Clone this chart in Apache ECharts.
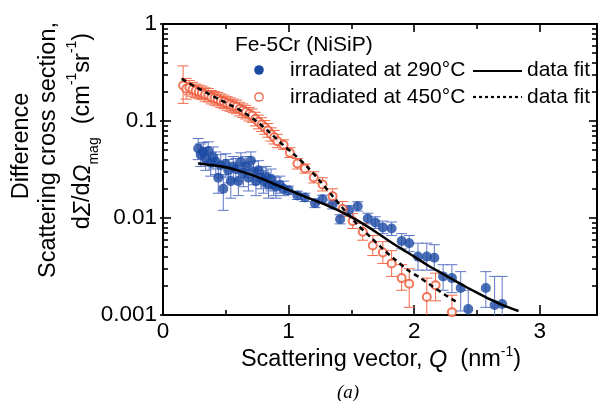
<!DOCTYPE html>
<html><head><meta charset="utf-8">
<script src="https://cdn.jsdelivr.net/npm/echarts@6/dist/echarts.min.js"></script>
<style>html,body{margin:0;padding:0;background:#fff}#c{width:599px;height:401px}</style>
</head><body><div id="c"></div>
<script>
// ---------- data ----------
const xTickValues = [0, 1, 2, 3];
const xMinorTickValues = [0.5, 1.5, 2.5];
const yTickValues = [0.001, 0.01, 0.1, 1];
const xMax = 3.455;

// irradiated at 290 °C (filled blue circles)
const blueQ  = [0.28,0.30,0.32,0.34,0.36,0.38,0.40,0.42,0.44,0.46,0.48,0.50,0.52,0.54,0.56,0.58,0.60,0.62,0.64,0.66,0.68,0.70,0.72,0.74,0.76,0.78,0.80,0.82,0.84,0.86,0.88,0.90,0.93,0.96,
                1.00,1.07,1.13,1.21,1.27,1.35,1.41,1.48,1.55,1.63,1.69,1.75,1.82,1.90,1.96,2.03,2.10,2.16,2.23,2.30,2.37,2.43,2.57,2.64,2.70];
const blueV  = [0.052,0.045,0.048,0.041,0.049,0.037,0.042,0.038,0.026,0.035,0.020,0.036,0.031,0.024,0.034,0.032,0.024,0.038,0.029,0.034,0.026,0.039,0.030,0.024,0.031,0.026,0.024,0.027,0.022,0.025,0.022,0.021,0.022,0.020,
                0.0193,0.0171,0.0163,0.0142,0.0156,0.0138,0.0097,0.0120,0.0132,0.0099,0.0090,0.0080,0.0078,0.0058,0.0055,0.0040,0.0040,0.0039,0.0025,0.0024,0.0019,0.00115,0.0019,0.00127,0.0013];
const blueLo = [0.040,0.034,0.037,0.031,0.038,0.027,0.032,0.028,0.018,0.026,0.012,0.027,0.023,0.016,0.025,0.024,0.017,0.029,0.021,0.026,0.019,0.031,0.022,0.017,0.024,0.020,0.018,0.021,0.016,0.019,0.017,0.016,0.018,0.017,
                0.0175,0.0155,0.0148,0.0128,0.0141,0.0124,0.0087,0.0107,0.0118,0.0087,0.0078,0.0069,0.0066,0.0048,0.0045,0.0029,0.0029,0.0029,0.0018,0.0017,0.0011,0.0008,0.0012,0.0007,0.0007];
const blueHi = [0.066,0.058,0.060,0.053,0.061,0.047,0.054,0.048,0.034,0.045,0.028,0.046,0.040,0.032,0.043,0.041,0.032,0.047,0.037,0.043,0.034,0.048,0.038,0.031,0.039,0.033,0.031,0.034,0.028,0.032,0.027,0.026,0.027,0.024,
                0.0213,0.0189,0.0180,0.0157,0.0172,0.0153,0.0108,0.0134,0.0147,0.0112,0.0103,0.0093,0.0091,0.0069,0.0066,0.0055,0.0055,0.0053,0.0033,0.0033,0.0028,0.0018,0.0028,0.0025,0.0025];

// irradiated at 450 °C (open red circles)
const redQ  = [0.16,0.185,0.21,0.235,0.26,0.285,0.31,0.335,0.36,0.385,0.41,0.435,0.46,0.485,0.51,0.535,0.56,0.585,0.61,0.635,0.66,0.685,0.71,0.735,0.76,0.785,0.81,0.835,0.86,0.885,0.91,
               0.96,1.01,1.07,1.13,1.20,1.27,1.35,1.43,1.51,1.59,1.67,1.75,1.82,1.90,1.96,2.10,2.17,2.30];
const redV  = [0.232,0.215,0.222,0.212,0.205,0.200,0.196,0.188,0.185,0.176,0.172,0.168,0.162,0.158,0.152,0.148,0.144,0.140,0.133,0.128,0.124,0.118,0.114,0.105,0.098,0.092,0.086,0.080,0.073,0.068,0.062,
               0.057,0.047,0.0365,0.0324,0.0262,0.0222,0.0168,0.0124,0.0093,0.0072,0.0052,0.0044,0.0034,0.0024,0.0021,0.00153,0.00203,0.00107];
const redLo = [0.152,0.168,0.186,0.180,0.174,0.170,0.167,0.160,0.157,0.150,0.146,0.143,0.138,0.134,0.129,0.126,0.122,0.119,0.113,0.109,0.105,0.100,0.097,0.089,0.083,0.078,0.073,0.068,0.062,0.058,0.053,
               0.051,0.042,0.032,0.029,0.023,0.019,0.014,0.0104,0.0078,0.0059,0.0041,0.0034,0.0025,0.0018,0.0012,0.0009,0.0014,0.0006];
const redHi = [0.370,0.275,0.262,0.250,0.240,0.234,0.229,0.220,0.216,0.206,0.201,0.197,0.190,0.185,0.178,0.173,0.168,0.164,0.156,0.150,0.145,0.138,0.133,0.123,0.115,0.108,0.101,0.094,0.085,0.080,0.073,
               0.064,0.053,0.041,0.036,0.030,0.026,0.020,0.0148,0.0111,0.0088,0.0066,0.0057,0.0046,0.0033,0.0030,0.0024,0.0027,0.0016];

// data fits
const fit290Q = [0.28,0.4,0.5,0.6,0.7,0.8,0.9,1.0,1.1,1.2,1.3,1.4,1.5,1.6,1.7,1.8,1.9,2.0,2.1,2.2,2.3,2.4,2.5,2.6,2.7,2.83];
const fit290V = [0.0365,0.0350,0.0333,0.0308,0.0280,0.0250,0.0220,0.0195,0.0172,0.0153,0.0136,0.0119,0.0102,0.0086,0.0071,0.0058,0.0048,0.0040,0.0033,0.00278,0.00235,0.00199,0.0017,0.00146,0.00127,0.0011];
const fit450Q = [0.15,0.25,0.35,0.45,0.55,0.65,0.75,0.85,0.95,1.05,1.15,1.25,1.35,1.45,1.55,1.65,1.75,1.85,1.95,2.05,2.15,2.25,2.33];
const fit450V = [0.272,0.228,0.195,0.166,0.143,0.121,0.098,0.076,0.0575,0.0445,0.0335,0.0240,0.0168,0.0118,0.0085,0.0064,0.0048,0.0037,0.0029,0.0024,0.00195,0.0016,0.00138];

// texts
const legendTitle = 'Fe-5Cr (NiSiP)';
const legendNames = ['irradiated at 290°C', 'irradiated at 450°C'];
const fitName = 'data fit';
const panelLabel = '(a)';

// ---------- styling ----------
const SANS = '"Liberation Sans", Arial, sans-serif';
const SERIF = '"Liberation Serif", "Times New Roman", serif';
const BLUE = '#1c4aa3';
const BLUE_ERR = '#5d76c6';
const RED = '#ee5535';
const RED_ERR = '#f2694a';

const yMinorTicks = [];
[0.001, 0.01, 0.1].forEach(d => { for (let k = 2; k <= 9; k++) yMinorTicks.push(+(k * d).toPrecision(2)); });

function errBar(color, capW) {
  return function (params, api) {
    const q = api.value(0), lo = api.value(1), hi = api.value(2);
    const p1 = api.coord([q, lo]), p2 = api.coord([q, hi]);
    const h = capW / 2;
    const st = { stroke: color, lineWidth: 1 };
    return { type: 'group', children: [
      { type: 'line', shape: { x1: p1[0], y1: p1[1], x2: p2[0], y2: p2[1] }, style: st },
      { type: 'line', shape: { x1: p1[0] - h, y1: p1[1], x2: p1[0] + h, y2: p1[1] }, style: st },
      { type: 'line', shape: { x1: p2[0] - h, y1: p2[1], x2: p2[0] + h, y2: p2[1] }, style: st }
    ]};
  };
}

const axLine = { show: true, onZero: false, lineStyle: { color: '#000', width: 2 } };
const noLine = { show: false, onZero: false };
function xAx(pos, ticks, len, withLine, labels) {
  return { type: 'value', min: 0, max: xMax, position: pos,
    axisLine: withLine ? axLine : noLine,
    axisTick: { show: true, inside: true, length: len, customValues: ticks, lineStyle: { color: '#000', width: 1.6 } },
    axisLabel: labels ? { show: true, customValues: xTickValues, fontSize: 22.5, fontFamily: SANS, color: '#000', margin: 5 } : { show: false },
    splitLine: { show: false } };
}
function yAx(pos, ticks, len, inside, withLine, labels) {
  return { type: 'log', logBase: 10, min: 0.001, max: 1, position: pos,
    axisLine: withLine ? axLine : noLine,
    axisTick: { show: true, inside: inside, length: len, customValues: ticks, lineStyle: { color: '#000', width: 1.6 } },
    axisLabel: labels ? { show: true, customValues: yTickValues, fontSize: 22.5, fontFamily: SANS, color: '#000', margin: 6,
      formatter: v => String(+Number(v).toPrecision(3)) } : { show: false },
    splitLine: { show: false }, minorSplitLine: { show: false } };
}

const txt = (x, y, text, extra) => Object.assign({ type: 'text', x: x, y: y, silent: true,
  style: Object.assign({ text: text, fontSize: 21, fontFamily: SANS, fill: '#000',
    align: 'left', textAlign: 'left', verticalAlign: 'middle', textVerticalAlign: 'middle' }, extra || {}) });

const chart = echarts.init(document.getElementById('c'), null, { renderer: 'canvas', width: 599, height: 401 });
chart.setOption({
  animation: false,
  backgroundColor: '#fff',
  grid: { left: 163, top: 24, width: 434, height: 291 },
  xAxis: [
    xAx('bottom', xTickValues, 10, true, true),
    xAx('bottom', xMinorTickValues, 5, false, false),
    xAx('top', xTickValues, 8, true, false),
    xAx('top', xMinorTickValues, 5, false, false)
  ],
  yAxis: [
    yAx('left', yTickValues, 8, true, true, true),
    yAx('left', yMinorTicks, 5, true, false, false),
    yAx('left', yTickValues, 3, false, false, false),
    yAx('right', yTickValues, 8, true, true, false),
    yAx('right', yMinorTicks, 5, true, false, false)
  ],
  series: [
    { type: 'custom', name: 'err290', xAxisIndex: 0, yAxisIndex: 0, clip: true, silent: true, z: 1,
      renderItem: errBar(BLUE_ERR, 11), encode: { x: 0, y: [1, 2] },
      data: blueQ.map((q, i) => [q, blueLo[i], blueHi[i]]) },
    { type: 'custom', name: 'err450', xAxisIndex: 0, yAxisIndex: 0, clip: true, silent: true, z: 1,
      renderItem: errBar(RED_ERR, 11), encode: { x: 0, y: [1, 2] },
      data: redQ.map((q, i) => [q, redLo[i], redHi[i]]) },
    { type: 'scatter', name: legendNames[0], xAxisIndex: 0, yAxisIndex: 0, z: 2,
      symbol: 'circle', symbolSize: 10, itemStyle: { color: BLUE },
      data: blueQ.map((q, i) => [q, blueV[i]]) },
    { type: 'scatter', name: legendNames[1], xAxisIndex: 0, yAxisIndex: 0, z: 2,
      symbol: 'emptyCircle', symbolSize: 8, itemStyle: { color: RED, borderColor: RED, borderWidth: 1.2 },
      data: redQ.map((q, i) => [q, redV[i]]) },
    { type: 'line', name: 'fit290', xAxisIndex: 0, yAxisIndex: 0, z: 3, smooth: 0.3, showSymbol: false, symbol: 'none',
      lineStyle: { color: '#000', width: 2.5 },
      data: fit290Q.map((q, i) => [q, fit290V[i]]) },
    { type: 'line', name: 'fit450', xAxisIndex: 0, yAxisIndex: 0, z: 3, smooth: 0.3, showSymbol: false, symbol: 'none',
      lineStyle: { color: '#000', width: 2.5, type: [5, 4] },
      data: fit450Q.map((q, i) => [q, fit450V[i]]) }
  ],
  graphic: [
    // legend
    txt(235, 45, legendTitle),
    { type: 'circle', silent: true, shape: { cx: 259, cy: 70, r: 4.8 }, style: { fill: BLUE } },
    txt(290, 70, legendNames[0]),
    { type: 'line', silent: true, shape: { x1: 473, y1: 71, x2: 522, y2: 71 }, style: { stroke: '#000', lineWidth: 2.2 } },
    txt(527, 70, fitName),
    { type: 'circle', silent: true, shape: { cx: 259, cy: 97, r: 4.2 }, style: { fill: '#fff', stroke: RED, lineWidth: 1.2 } },
    txt(290, 97, legendNames[1]),
    { type: 'line', silent: true, shape: { x1: 473, y1: 97, x2: 522, y2: 97 }, style: { stroke: '#000', lineWidth: 2.2, lineDash: [3, 3] } },
    txt(527, 97, fitName),
    // x-axis title
    txt(381, 360, '{n|Scattering vector, }{i|Q}{n|  (nm}{sup|-1}{n|)}', {
      align: 'center', textAlign: 'center',
      rich: {
        n: { fontSize: 23.5, fontFamily: SANS, lineHeight: 30, fill: '#000', color: '#000' },
        i: { fontSize: 23.5, fontFamily: SANS, fontStyle: 'italic', lineHeight: 30, fill: '#000', color: '#000' },
        sup: { fontSize: 14, fontFamily: SANS, lineHeight: 16, verticalAlign: 'top', fill: '#000', color: '#000' }
      } }),
    // y-axis title (three rotated lines)
    Object.assign(txt(22, 146, 'Difference', { fontSize: 23.5, align: 'center', textAlign: 'center' }), { rotation: Math.PI / 2 }),
    Object.assign(txt(49, 150, 'Scattering cross section,', { fontSize: 23.5, align: 'center', textAlign: 'center' }), { rotation: Math.PI / 2 }),
    Object.assign(txt(83, 131, '{n|d}{i|Σ}{n|/d}{i|Ω}{sub|mag}{n|  (cm}{sup|-1}{n|sr}{sup|-1}{n|)}', {
      align: 'center', textAlign: 'center',
      rich: {
        n: { fontSize: 23.5, fontFamily: SANS, lineHeight: 36, fill: '#000', color: '#000' },
        i: { fontSize: 23.5, fontFamily: SANS, fontStyle: 'italic', lineHeight: 36, fill: '#000', color: '#000' },
        sub: { fontSize: 14, fontFamily: SANS, lineHeight: 14, verticalAlign: 'bottom', fill: '#000', color: '#000' },
        sup: { fontSize: 14, fontFamily: SANS, lineHeight: 20, verticalAlign: 'top', fill: '#000', color: '#000' }
      } }), { rotation: Math.PI / 2 }),
    // panel label
    txt(348, 393, panelLabel, { fontSize: 19, fontFamily: SERIF, fontStyle: 'italic', align: 'center', textAlign: 'center' })
  ]
});
</script>
</body></html>
